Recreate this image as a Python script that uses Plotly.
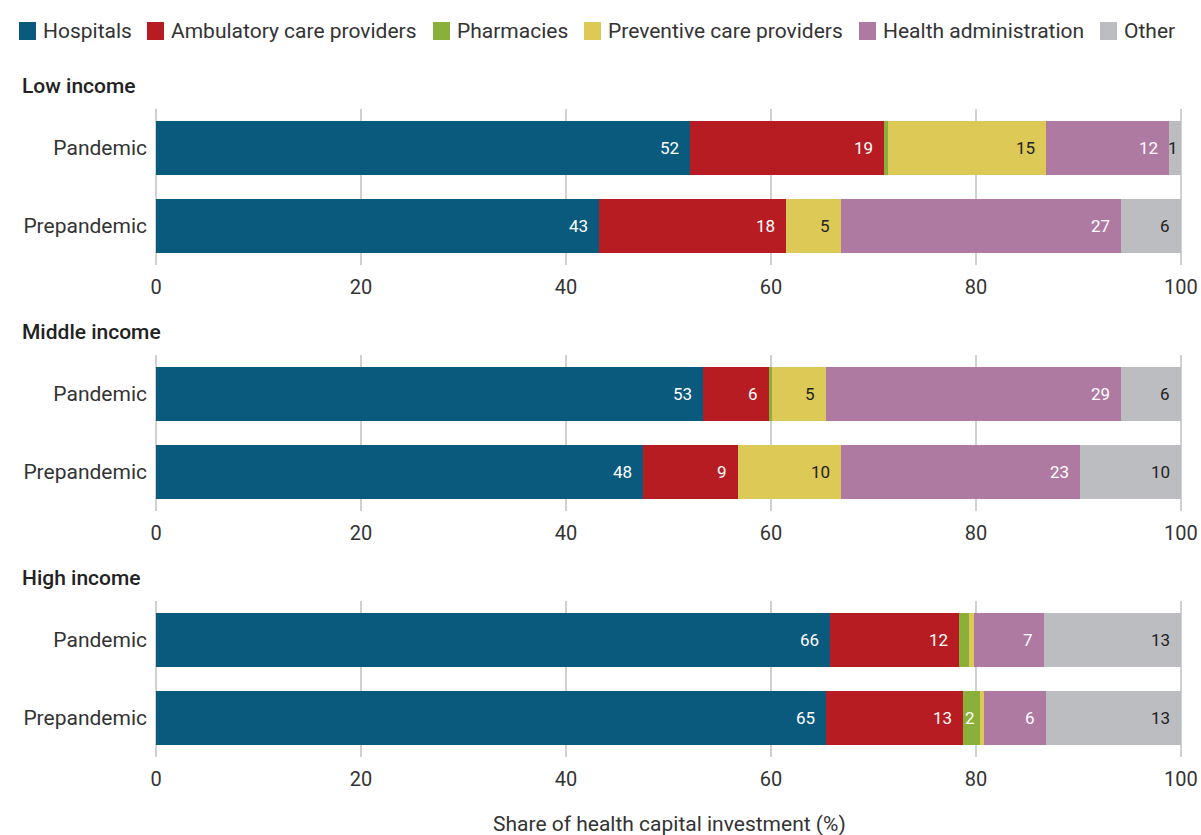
import plotly.graph_objects as go

groups = ["Low income", "Middle income", "High income"]
periods = ["Pandemic", "Prepandemic"]
series_names = ["Hospitals", "Ambulatory care providers", "Pharmacies",
                "Preventive care providers", "Health administration", "Other"]

# order: Low-Pandemic, Low-Prepandemic, Middle-Pandemic, Middle-Prepandemic, High-Pandemic, High-Prepandemic
hospitals = [52.1, 43.2, 53.4, 47.5, 65.8, 65.4]
ambulatory = [18.9, 18.3, 6.4, 9.3, 12.5, 13.3]
pharmacies = [0.4, 0.0, 0.3, 0.0, 1.0, 1.7]
preventive = [15.4, 5.3, 5.3, 10.0, 0.5, 0.4]
administration = [12.0, 27.3, 28.7, 23.3, 6.8, 6.0]
other = [1.2, 5.9, 5.9, 9.9, 13.4, 13.2]

hospitals_labels = ["52", "43", "53", "48", "66", "65"]
ambulatory_labels = ["19", "18", "6", "9", "12", "13"]
pharmacies_labels = ["", "", "", "", "", "2"]
preventive_labels = ["15", "5", "5", "10", "", ""]
administration_labels = ["12", "27", "29", "23", "7", "6"]
other_labels = ["1", "6", "6", "10", "13", "13"]

x_ticks = [0, 20, 40, 60, 80, 100]
x_title = "Share of health capital investment (%)"

series_values = [hospitals, ambulatory, pharmacies, preventive, administration, other]
series_labels = [hospitals_labels, ambulatory_labels, pharmacies_labels,
                 preventive_labels, administration_labels, other_labels]
colors = ["#0a5a7e", "#b71c22", "#8ab03b", "#ddc955", "#af7aa1", "#bcbdc1"]
label_colors = ["white", "white", "white", "#222222", "white", "#222222"]

FONT = "Roboto"
W, H = 1201, 835
L, R = 156, 19
T, B = 60, 60
PH = H - T - B
PW = W - L - R
# plot-area pixel bounds (top, bottom) for each panel
panel_px = [(109, 265), (355, 511), (601, 757)]


def py(p):
    return 1 - (p - T) / PH


def px(p):
    return (p - L) / PW


fig = go.Figure()

for gi, grp in enumerate(groups):
    xa = "x" if gi == 0 else f"x{gi+1}"
    ya = "y" if gi == 0 else f"y{gi+1}"
    cum = [0.0, 0.0]
    for si, name in enumerate(series_names):
        vals = series_values[si][gi*2:gi*2+2]
        labs = series_labels[si][gi*2:gi*2+2]
        fig.add_trace(go.Bar(
            x=vals, y=periods, orientation="h", name=name,
            marker=dict(color=colors[si], line=dict(width=0)),
            width=0.68, xaxis=xa, yaxis=ya,
            legendgroup=name, showlegend=False,
            hoverinfo="x+y+name",
        ))
        for pi in range(2):
            cum[pi] += vals[pi]
            if labs[pi]:
                if vals[pi] < 1.5:
                    shift = -1
                elif vals[pi] < 3:
                    shift = -3
                else:
                    shift = -9
                fig.add_annotation(
                    x=cum[pi], y=periods[pi], xref=xa, yref=ya,
                    text=labs[pi], showarrow=False, xanchor="right",
                    xshift=shift,
                    font=dict(family=FONT, size=17, color=label_colors[si]))
    top, bot = panel_px[gi]
    dom = [py(bot), py(top)]
    axis_x = dict(domain=[0, 1], range=[0, 100.1], tickvals=x_ticks,
                  showgrid=True, gridcolor="#d0d0d0", gridwidth=2,
                  zeroline=True, zerolinecolor="#d0d0d0", zerolinewidth=2,
                  showline=False, ticks="", anchor=ya, automargin=False,
                  ticklabelstandoff=8,
                  tickfont=dict(family=FONT, size=20, color="#333333"))
    axis_y = dict(domain=dom, autorange="reversed", showgrid=False,
                  zeroline=False, showline=False, ticks="", anchor=xa,
                  automargin=False, ticklabelstandoff=8,
                  tickfont=dict(family=FONT, size=21, color="#333333"))
    if gi == 0:
        fig.update_layout(xaxis=axis_x, yaxis=axis_y)
    else:
        fig.update_layout(**{f"xaxis{gi+1}": axis_x, f"yaxis{gi+1}": axis_y})
    # panel title
    fig.add_annotation(
        x=px(20), y=py(top - 23), xref="paper", yref="paper",
        text=grp, showarrow=False, xanchor="left", yanchor="middle",
        font=dict(family=FONT, size=21, color="#222222", weight=500))

# x-axis title
fig.add_annotation(
    x=0.5, y=py(824), xref="paper", yref="paper", text=x_title,
    showarrow=False, xanchor="center", yanchor="middle",
    font=dict(family=FONT, size=21, color="#333333"))

# legend (drawn as swatches + text)
legend_sq_x = [19, 147, 433, 584, 859, 1100]
legend_y = 31
for si, name in enumerate(series_names):
    x0 = legend_sq_x[si]
    fig.add_shape(type="rect", xref="paper", yref="paper",
                  x0=px(x0), x1=px(x0 + 17), y0=py(legend_y + 9), y1=py(legend_y - 9),
                  fillcolor=colors[si], line=dict(width=0))
    fig.add_annotation(
        x=px(x0 + 22), y=py(legend_y), xref="paper", yref="paper", text=name,
        showarrow=False, xanchor="left", yanchor="middle",
        font=dict(family=FONT, size=21, color="#333333"))

fig.update_layout(
    width=W, height=H,
    margin=dict(l=L, r=R, t=T, b=B, autoexpand=False),
    barmode="stack",
    bargap=0.32,
    plot_bgcolor="white", paper_bgcolor="white",
    font=dict(family=FONT, size=18, color="#333333"),
    showlegend=False,
    hovermode="closest",
)

fig.write_html("out.html", config={"displayModeBar": False},
               post_script="document.body.style.margin='0';document.body.style.overflow='hidden';")
